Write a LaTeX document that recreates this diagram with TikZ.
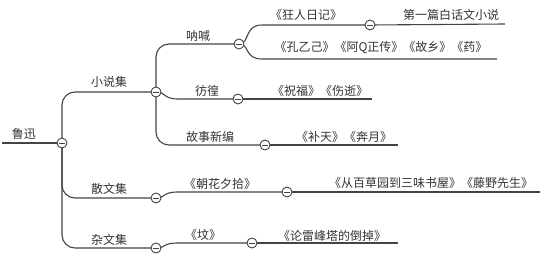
\documentclass[tikz,border=0pt]{standalone}
\usepackage{fontspec}
\newfontfamily\cjk{Noto Sans CJK SC}
\pgfdeclarelayer{bg}
\pgfsetlayers{bg,main}
\definecolor{ink}{HTML}{333333}
\definecolor{wire}{HTML}{444444}
\tikzset{
  lbl/.style={font=\cjk\fontsize{12}{14}\selectfont, text=ink, inner sep=0pt, anchor=center},
  toggle/.style={circle, draw=wire, fill=white, line width=0.9pt, minimum size=10pt, inner sep=0pt,
    path picture={\draw[wire, line width=0.9pt] ([xshift=-2.6pt]path picture bounding box.center) -- ([xshift=2.6pt]path picture bounding box.center);}},
  wireline/.style={draw=wire, line width=1.1pt},
}
\begin{document}
\begin{tikzpicture}[x=1pt,y=-1pt]
\useasboundingbox (0,0) rectangle (558,257);
% toggles
\node[toggle] (croot) at (62,143) {};
\node[toggle] (cxs) at (156,92) {};
\node[toggle] (csw) at (156,198) {};
\node[toggle] (czw) at (156,248) {};
\node[toggle] (cnh) at (239,44) {};
\node[toggle] (cph) at (238,99) {};
\node[toggle] (cgs) at (265,145) {};
\node[toggle] (ckr) at (370,25) {};
\node[toggle] (czh) at (287,192) {};
\node[toggle] (cfen) at (252,243) {};
% free ends
\coordinate (eroot) at (2,143);
\coordinate (ekr) at (505,24);
\coordinate (ekong) at (497,59);
\coordinate (eph) at (372,99);
\coordinate (egs) at (398,145);
\coordinate (ezh) at (540,192);
\coordinate (efen) at (398,243);
% labels
\node[lbl] (troot) at (24,134) {鲁迅};
\node[lbl] (txs) at (109,82) {小说集};
\node[lbl] (tsw) at (109,189) {散文集};
\node[lbl] (tzw) at (109,240) {杂文集};
\node[lbl] (tnh) at (198,36) {呐喊};
\node[lbl] (tph) at (207,91) {彷徨};
\node[lbl] (tgs) at (210,137) {故事新编};
\node[lbl] (tkr) at (306,15) {《狂人日记》};
\node[lbl] (tdy) at (451,15) {第一篇白话文小说};
\node[lbl] (tkong) at (381,48) {《孔乙己》《阿Q正传》《故乡》《药》};
\node[lbl] (tzf) at (320,91) {《祝福》《伤逝》};
\node[lbl] (tbt) at (344,137) {《补天》《奔月》};
\node[lbl] (tzhx) at (220,184) {《朝花夕拾》};
\node[lbl] (tcb) at (431,183) {《从百草园到三味书屋》《藤野先生》};
\node[lbl] (tfen) at (203,235) {《坟》};
\node[lbl] (tlf) at (332,236) {《论雷峰塔的倒掉》};
% connectors
\begin{pgfonlayer}{bg}
\draw[wireline] (eroot) -- (croot.center);
\draw[wireline, rounded corners=13pt] (croot.center) |- (cxs.center);
\draw[wireline, rounded corners=13pt] (croot.center) |- (csw.center);
\draw[wireline, rounded corners=13pt] (croot.center) |- (czw.center);
\draw[wireline, rounded corners=13pt] (cxs.center) |- (cnh.center);
\draw[wireline, rounded corners=13pt] (cxs.center) |- (cgs.center);
\draw[wireline] (cxs.center) .. controls (166,92) and (163,99) .. (178,99) -- (cph.center);
\draw[wireline] (cnh.center) .. controls (250,44) and (244,25) .. (262,25) -- (ckr.center);
\draw[wireline] (cnh.center) .. controls (250,44) and (244,59) .. (262,59) -- (ekong);
\draw[wireline] (ckr.center) -- (ekr);
\draw[wireline] (cph.center) -- (eph);
\draw[wireline] (cgs.center) -- (egs);
\draw[wireline] (csw.center) .. controls (166,198) and (162,192) .. (178,192) -- (czh.center);
\draw[wireline] (czh.center) -- (ezh);
\draw[wireline] (czw.center) .. controls (166,248) and (162,243) .. (178,243) -- (cfen.center);
\draw[wireline] (cfen.center) -- (efen);
\end{pgfonlayer}
\end{tikzpicture}
\end{document}
